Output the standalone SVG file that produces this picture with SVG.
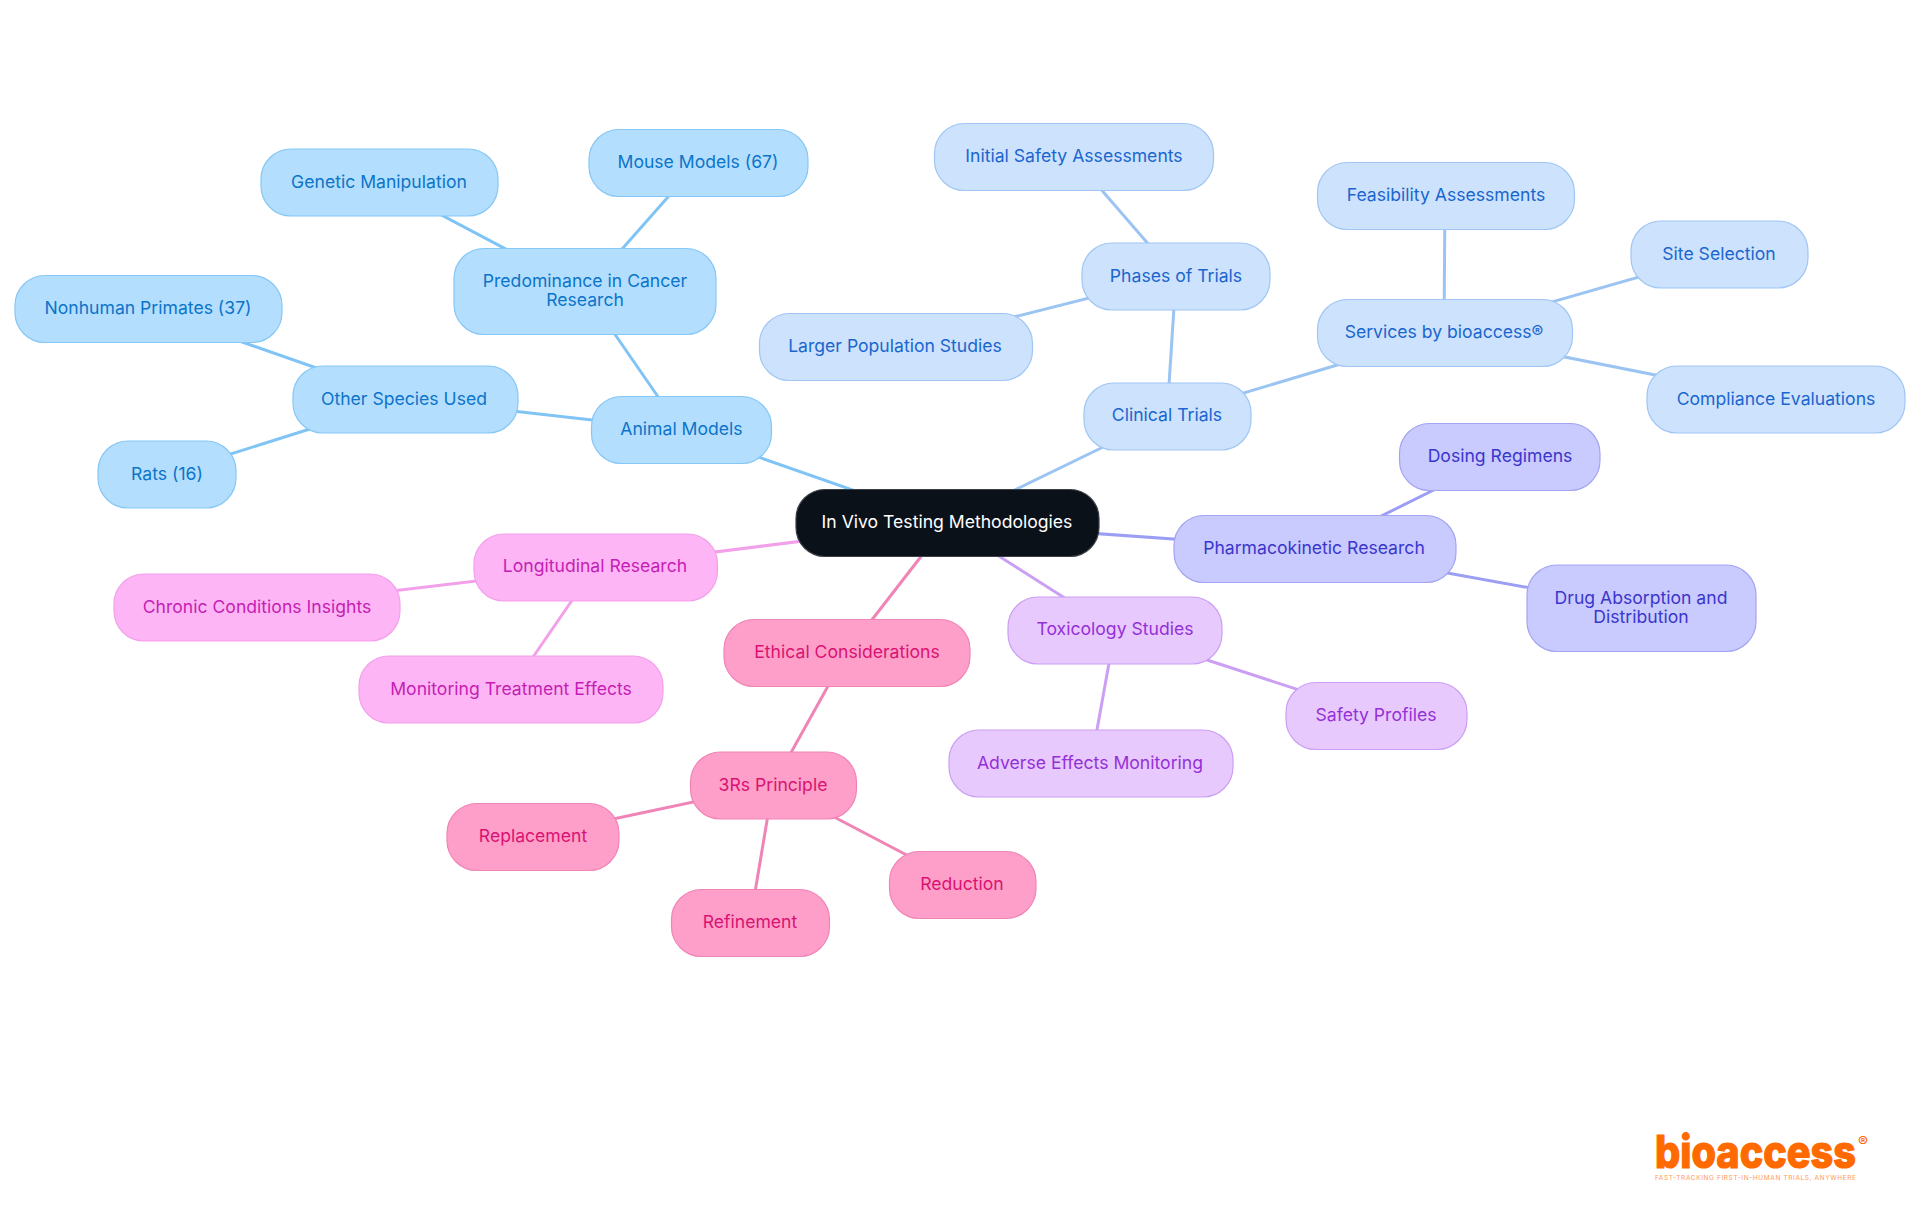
<svg xmlns="http://www.w3.org/2000/svg" width="1920" height="1215" viewBox="0 0 1920 1215">
<style>
text{font-family:"Inter","Noto Sans","Liberation Sans",sans-serif;font-size:17.600px;font-weight:400;text-anchor:middle}
rect{stroke-width:1.2}
.c line{stroke-width:3;fill:none}
.b rect{fill:#b3defe;stroke:#85c7f5}.b text{fill:#0c74c9}
.l rect{fill:#cde2fc;stroke:#a0c6f4}.l text{fill:#1a66cf}
.i rect{fill:#c9cafd;stroke:#a3a4f3}.i text{fill:#3a36cc}
.p rect{fill:#e8c9fd;stroke:#cb9ff3}.p text{fill:#9430d8}
.k rect{fill:#fe9fca;stroke:#f084b6}.k text{fill:#da1272}
.m rect{fill:#feb5f5;stroke:#f3a0ea}.m text{fill:#c41eb4}
</style>
<rect width="1920" height="1215" fill="#fff" style="stroke:none"/>
<g id="connectors" class="c">
<g stroke="#7fc4f4"><line x1="947" y1="523" x2="681" y2="430"/><line x1="681" y1="430" x2="585" y2="291"/><line x1="585" y1="291" x2="698" y2="163"/><line x1="585" y1="291" x2="379" y2="182"/><line x1="681" y1="430" x2="405" y2="399"/><line x1="405" y1="399" x2="148" y2="309"/><line x1="405" y1="399" x2="167" y2="474"/></g>
<g stroke="#9cc4f3"><line x1="947" y1="523" x2="1167" y2="416"/><line x1="1167" y1="416" x2="1176" y2="276"/><line x1="1176" y1="276" x2="1073" y2="157"/><line x1="1176" y1="276" x2="895" y2="347"/><line x1="1167" y1="416" x2="1444" y2="333"/><line x1="1444" y1="333" x2="1445" y2="196"/><line x1="1444" y1="333" x2="1719" y2="254"/><line x1="1444" y1="333" x2="1776" y2="399"/></g>
<g stroke="#9c9ef4"><line x1="947" y1="523" x2="1315" y2="549"/><line x1="1315" y1="549" x2="1500" y2="457"/><line x1="1315" y1="549" x2="1641" y2="608"/></g>
<g stroke="#cb9ff3"><line x1="947" y1="523" x2="1115" y2="630"/><line x1="1115" y1="630" x2="1376" y2="715"/><line x1="1115" y1="630" x2="1091" y2="763"/></g>
<g stroke="#f084b6"><line x1="947" y1="523" x2="847" y2="652"/><line x1="847" y1="652" x2="773" y2="785"/><line x1="773" y1="785" x2="533" y2="836"/><line x1="773" y1="785" x2="750" y2="922"/><line x1="773" y1="785" x2="962" y2="884"/></g>
<g stroke="#f3a0ea"><line x1="947" y1="523" x2="595" y2="567"/><line x1="595" y1="567" x2="257" y2="607"/><line x1="595" y1="567" x2="511" y2="689"/></g>
</g>
<g id="n-root"><rect x="796" y="489.500" width="303" height="67" rx="29" fill="#0b1119" stroke="#3a3f46"/><text x="947" y="528" fill="#fff">In Vivo Testing Methodologies</text></g>
<g id="n-animal" class="b"><rect x="591.500" y="396.500" width="180" height="67" rx="30"/><text x="681.500" y="435">Animal Models</text></g>
<g id="n-cancer" class="b"><rect x="454" y="248.500" width="262" height="86" rx="30"/><text x="585" y="287">Predominance in Cancer</text><text x="585" y="306">Research</text></g>
<g id="n-mouse" class="b"><rect x="589" y="129.500" width="219" height="67" rx="30"/><text x="698" y="168">Mouse Models (67)</text></g>
<g id="n-genetic" class="b"><rect x="261" y="149" width="237" height="67" rx="30"/><text x="379" y="188">Genetic Manipulation</text></g>
<g id="n-species" class="b"><rect x="293" y="366" width="225" height="67" rx="30"/><text x="404" y="405">Other Species Used</text></g>
<g id="n-primates" class="b"><rect x="15" y="275.500" width="267" height="67" rx="30"/><text x="148" y="314">Nonhuman Primates (37)</text></g>
<g id="n-rats" class="b"><rect x="98" y="441" width="138" height="67" rx="30"/><text x="167" y="480">Rats (16)</text></g>
<g id="n-clinical" class="l"><rect x="1084" y="383" width="167" height="67" rx="30"/><text x="1167" y="421">Clinical Trials</text></g>
<g id="n-phases" class="l"><rect x="1082" y="243" width="188" height="67" rx="30"/><text x="1176" y="282">Phases of Trials</text></g>
<g id="n-initial" class="l"><rect x="934.500" y="123.500" width="279" height="67" rx="30"/><text x="1074" y="162">Initial Safety Assessments</text></g>
<g id="n-larger" class="l"><rect x="759.500" y="313.500" width="273" height="67" rx="30"/><text x="895" y="352">Larger Population Studies</text></g>
<g id="n-services" class="l"><rect x="1317.500" y="299.500" width="255" height="67" rx="30"/><text x="1444" y="338">Services by bioaccess®</text></g>
<g id="n-feasibility" class="l"><rect x="1317.500" y="162.500" width="257" height="67" rx="30"/><text x="1446" y="201">Feasibility Assessments</text></g>
<g id="n-site" class="l"><rect x="1631" y="221" width="177" height="67" rx="30"/><text x="1719" y="260">Site Selection</text></g>
<g id="n-compliance" class="l"><rect x="1647" y="366" width="258" height="67" rx="30"/><text x="1776" y="405">Compliance Evaluations</text></g>
<g id="n-pk" class="i"><rect x="1174" y="515.500" width="282" height="67" rx="30"/><text x="1314" y="554">Pharmacokinetic Research</text></g>
<g id="n-dosing" class="i"><rect x="1399.500" y="423.500" width="200.500" height="67" rx="30"/><text x="1500" y="462">Dosing Regimens</text></g>
<g id="n-drug" class="i"><rect x="1527" y="565" width="229" height="86.500" rx="30"/><text x="1641" y="604">Drug Absorption and</text><text x="1641" y="623">Distribution</text></g>
<g id="n-tox" class="p"><rect x="1008" y="597" width="214" height="67" rx="30"/><text x="1115" y="635">Toxicology Studies</text></g>
<g id="n-safety" class="p"><rect x="1286" y="682.500" width="181" height="67" rx="30"/><text x="1376" y="721">Safety Profiles</text></g>
<g id="n-adverse" class="p"><rect x="949" y="730" width="284" height="67" rx="30"/><text x="1090" y="769">Adverse Effects Monitoring</text></g>
<g id="n-ethical" class="k"><rect x="724" y="619.500" width="246" height="67" rx="30"/><text x="847" y="658">Ethical Considerations</text></g>
<g id="n-3rs" class="k"><rect x="690.500" y="752" width="166" height="67" rx="30"/><text x="773" y="791">3Rs Principle</text></g>
<g id="n-replacement" class="k"><rect x="447" y="803.500" width="172" height="67" rx="30"/><text x="533" y="842">Replacement</text></g>
<g id="n-refinement" class="k"><rect x="671.500" y="889.500" width="158" height="67" rx="30"/><text x="750" y="928">Refinement</text></g>
<g id="n-reduction" class="k"><rect x="889.500" y="851.500" width="146.500" height="67" rx="30"/><text x="962" y="890">Reduction</text></g>
<g id="n-longitudinal" class="m"><rect x="474" y="534" width="243.500" height="67" rx="30"/><text x="595" y="572">Longitudinal Research</text></g>
<g id="n-chronic" class="m"><rect x="114" y="574" width="286" height="67" rx="30"/><text x="257" y="613">Chronic Conditions Insights</text></g>
<g id="n-monitoring" class="m"><rect x="359" y="656" width="304" height="67" rx="30"/><text x="511" y="695">Monitoring Treatment Effects</text></g>
<g id="logo">
<text x="1655" y="1168" textLength="201" lengthAdjust="spacingAndGlyphs" style="font-size:45px;font-weight:800;text-anchor:start;stroke:#ff6a00;stroke-width:1.2" fill="#ff6a00">bioaccess</text>
<text x="1863" y="1147" style="font-size:15px;font-weight:600" fill="#ff6a00">®</text>
<text x="1655" y="1180" textLength="201" style="font-size:6.500px;text-anchor:start" fill="#ff9a55">FAST-TRACKING FIRST-IN-HUMAN TRIALS, ANYWHERE</text>
</g>
</svg>
